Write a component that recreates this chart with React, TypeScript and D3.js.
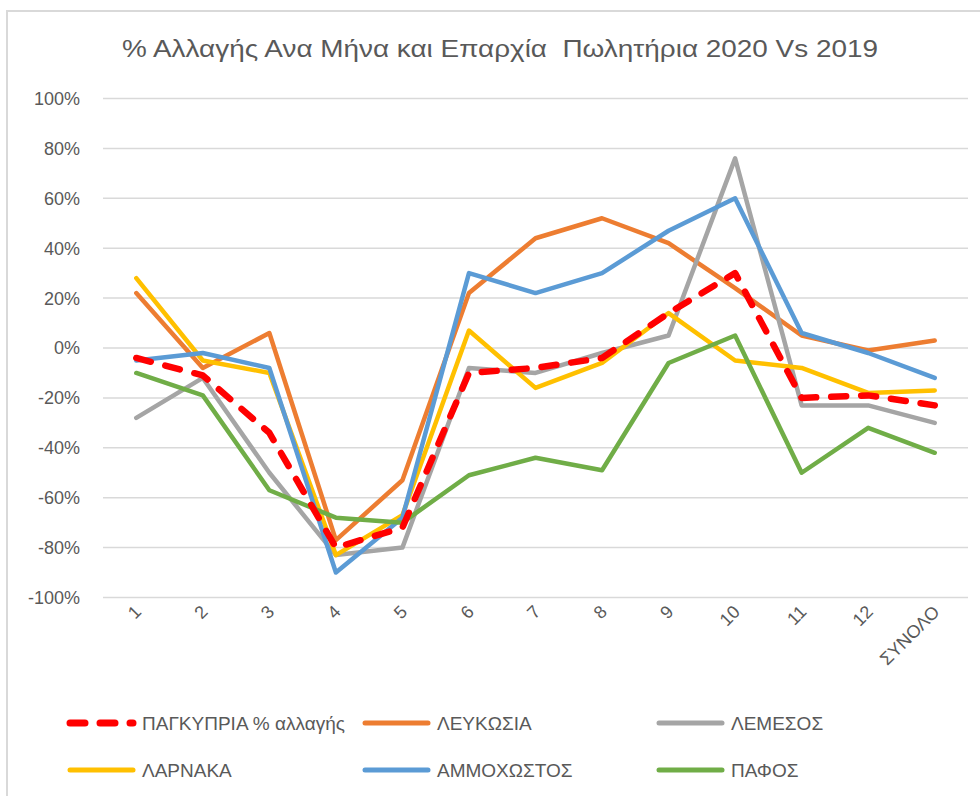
import React from "react";
import * as d3 from "d3";

const categories = ["1", "2", "3", "4", "5", "6", "7", "8", "9", "10", "11", "12", "ΣΥΝΟΛΟ"];
const yTicks = [-100, -80, -60, -40, -20, 0, 20, 40, 60, 80, 100];

const pagkypria = [-4, -11, -34, -80, -72, -10, -8, -4, 14, 30, -20, -19, -23];
const lefkosia = [22, -8, 6, -77, -53, 22, 44, 52, 42, 24, 5, -1, 3];
const lemesos = [-28, -12, -50, -83, -80, -8, -10, -2, 5, 76, -23, -23, -30];
const larnaka = [28, -5, -10, -83, -67, 7, -16, -6, 14, -5, -8, -18, -17];
const ammochostos = [-5, -2, -8, -90, -68, 30, 22, 30, 47, 60, 6, -2, -12];
const pafos = [-10, -19, -57, -68, -70, -51, -44, -49, -6, 5, -50, -32, -42];

const seriesNames = [
  "ΠΑΓΚΥΠΡΙΑ % αλλαγής",
  "ΛΕΥΚΩΣΙΑ",
  "ΛΕΜΕΣΟΣ",
  "ΛΑΡΝΑΚΑ",
  "ΑΜΜΟΧΩΣΤΟΣ",
  "ΠΑΦΟΣ",
];
const seriesValues = [pagkypria, lefkosia, lemesos, larnaka, ammochostos, pafos];
const seriesColors = ["#FF0000", "#ED7D31", "#A5A5A5", "#FFC000", "#5B9BD5", "#70AD47"];

const title = "% Αλλαγής Ανα Μήνα και Επαρχία  Πωλητήρια 2020 Vs 2019";

const W = 980;
const H = 796;
const FONT = "'Liberation Sans', Arial, sans-serif";
const TXT = "#595959";

export default function App() {
  const x = d3.scalePoint<string>().domain(categories).range([103, 968]).padding(0.5);
  const y = d3.scaleLinear().domain([-100, 100]).range([597.5, 98.5]);
  const line = d3
    .line<number>()
    .x((_, i) => x(categories[i]) as number)
    .y((d) => y(d));

  const drawOrder = [1, 2, 3, 4, 5, 0];

  const legendPos = [
    { lx: 67, row: 0 },
    { lx: 362, row: 0 },
    { lx: 656, row: 0 },
    { lx: 67, row: 1 },
    { lx: 362, row: 1 },
    { lx: 656, row: 1 },
  ];
  const legendRows = [723, 770];

  return (
    <svg
      width={W}
      height={H}
      style={{ position: "absolute", left: 0, top: 0, background: "#fff" }}
      fontFamily={FONT}
    >
      <rect x={0} y={0} width={W} height={H} fill="#fff" />
      <rect x={7} y={11} width={1200} height={1200} fill="#fff" stroke="#D9D9D9" strokeWidth={2} />
      <text
        x={500}
        y={57}
        textAnchor="middle"
        fontSize={24}
        fill={TXT}
        textLength={756}
        lengthAdjust="spacingAndGlyphs"
        style={{ whiteSpace: "pre" }}
      >
        {title}
      </text>

      {yTicks.map((t) => (
        <g key={t}>
          <line x1={103} x2={968} y1={y(t)} y2={y(t)} stroke="#D9D9D9" strokeWidth={1.5} />
          <text x={80} y={y(t)} dy="0.36em" textAnchor="end" fontSize={18} fill={TXT}>
            {`${t}%`}
          </text>
        </g>
      ))}

      {categories.map((c) => {
        const cx = x(c) as number;
        return (
          <text
            key={c}
            transform={`translate(${cx + 6},${613}) rotate(-45)`}
            textAnchor="end"
            fontSize={18}
            fill={TXT}
          >
            {c}
          </text>
        );
      })}

      {drawOrder.map((si) => (
        <path
          key={si}
          d={line(seriesValues[si]) || ""}
          fill="none"
          stroke={seriesColors[si]}
          strokeWidth={si === 0 ? 6.5 : 4.5}
          strokeLinejoin="round"
          strokeLinecap="round"
          strokeDasharray={si === 0 ? "15 15" : undefined}
        />
      ))}

      {seriesNames.map((name, si) => {
        const p = legendPos[si];
        const ly = legendRows[p.row];
        return (
          <g key={name}>
            <line
              x1={p.lx + 3}
              x2={p.lx + 66}
              y1={ly}
              y2={ly}
              stroke={seriesColors[si]}
              strokeWidth={si === 0 ? 7 : 5}
              strokeLinecap="round"
              strokeDasharray={si === 0 ? "15 15" : undefined}
            />
            <text x={p.lx + 75} y={ly} dy="0.36em" fontSize={19} fill={TXT}>
              {name}
            </text>
          </g>
        );
      })}
    </svg>
  );
}
